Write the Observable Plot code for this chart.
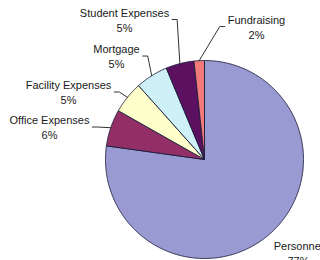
<!DOCTYPE html>
<html><head><meta charset="utf-8">
<script src="https://cdn.jsdelivr.net/npm/d3@7"></script>
<script src="https://cdn.jsdelivr.net/npm/@observablehq/plot@0.6"></script>
<style>
body{margin:0;background:#fff;}
#chart{width:320px;height:260px;overflow:hidden;}
</style>
</head><body><div id="chart"></div>
<script>
// ---- data ----
const categories = ["Personnel", "Office Expenses", "Facility Expenses", "Mortgage", "Student Expenses", "Fundraising"];
const values = [77.2, 6.0, 5.2, 5.3, 4.6, 1.7];
const percentLabels = values.map(v => Math.round(v) + "%");
const colors = ["#9a9ad2", "#922f66", "#ffffcc", "#cdf1f7", "#5c1160", "#f27a7a"];

// ---- label layout (pie-radius units, relative to pie centre) ----
const labelX = [0.949, -1.566, -1.374, -0.889, -0.808, 0.525];
const labelY = [-0.939, 0.328, 0.682, 1.045, 1.414, 1.343];
const showLeader = [false, true, true, true, true, true];

const PX_PER_UNIT = 99;
const FONT = "'Liberation Sans', Arial, sans-serif";

// ---- slices (clockwise from 12 o'clock) ----
const total = d3.sum(values);
let acc = 0;
const slices = categories.map((c, i) => {
  const a0 = acc / total * 2 * Math.PI;
  acc += values[i];
  const a1 = acc / total * 2 * Math.PI;
  return {category: c, a0, a1, i};
});
const poly = [];
for (const s of slices) {
  poly.push({category: s.category, x: 0, y: 0});
  const n = Math.max(2, Math.ceil((s.a1 - s.a0) / (Math.PI / 360)));
  for (let k = 0; k <= n; k++) {
    const a = s.a0 + (s.a1 - s.a0) * k / n;
    poly.push({category: s.category, x: Math.sin(a), y: Math.cos(a)});
  }
  poly.push({category: s.category, x: 0, y: 0});
}

// ---- leader lines ----
const ctx = document.createElement("canvas").getContext("2d");
ctx.font = "11px " + FONT;
const leaders = [];
slices.forEach((s, i) => {
  if (!showLeader[i]) return;
  const am = (s.a0 + s.a1) / 2;
  const ex = Math.sin(am), ey = Math.cos(am);
  const w = ctx.measureText(categories[i]).width;
  const side = labelX[i] > ex ? -1 : 1;
  const endX = labelX[i] + side * (w / 2 + 3) / PX_PER_UNIT;
  const elbowX = endX + side * 5 / PX_PER_UNIT;
  leaders.push({k: i, x: ex, y: ey}, {k: i, x: elbowX, y: labelY[i]}, {k: i, x: endX, y: labelY[i]});
});

const labels = categories.map((c, i) => ({text: c + "\n" + percentLabels[i], x: labelX[i], y: labelY[i]}));

const chart = Plot.plot({
  width: 320,
  height: 260,
  margin: 0,
  style: {background: "#fff", fontFamily: FONT},
  x: {domain: [-1, 1], range: [105, 303], axis: null},
  y: {domain: [-1, 1], range: [258, 60], axis: null},
  color: {domain: categories, range: colors},
  marks: [
    Plot.line(poly, {x: "x", y: "y", z: "category", fill: "category", stroke: "#1c1c3a", strokeWidth: 0.9, strokeLinejoin: "round"}),
    Plot.line(leaders, {x: "x", y: "y", z: "k", stroke: "#333", strokeWidth: 1}),
    Plot.text(labels, {x: "x", y: "y", text: "text", fontSize: 11, lineHeight: 1.36, fill: "#1a1a1a", fontFamily: FONT})
  ]
});
document.getElementById("chart").appendChild(chart);
</script>
</body></html>
